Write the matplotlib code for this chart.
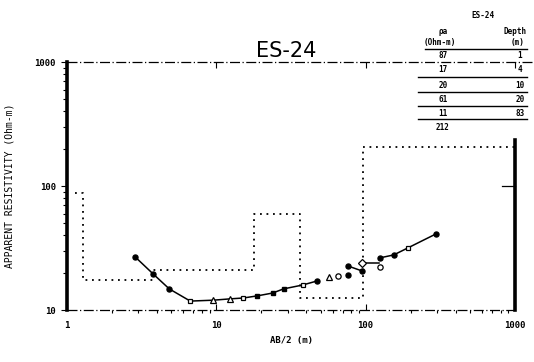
import matplotlib
matplotlib.use("Agg")
import matplotlib.pyplot as plt
import numpy as np

# ---------------- data ----------------
# observed apparent resistivity (AB/2 in m, rho_a in Ohm-m)
obs_ab2 = [2.86, 3.78, 4.84, 6.69, 9.55, 12.4, 15.2, 18.8, 23.8, 28.2, 37.8, 46.9,
           56.5, 64.9, 75.7, 75.7, 94.0, 94.0, 122.0, 124.0, 124.0, 154.0, 191.0, 245.0, 295.0]
obs_rho = [26.8, 19.5, 14.8, 11.8, 12.0, 12.3, 12.5, 13.0, 13.7, 14.8, 15.9, 17.1,
           18.5, 18.8, 19.1, 22.7, 20.7, 23.9, 23.9, 22.2, 26.3, 27.8, 31.6, 36.7, 41.0]
# symbol category per reading: f filled, s square, q filled square, t triangle, c circle, d diamond, n none
obs_sym = ['f', 'f', 'f', 's', 't', 't', 's', 'q', 'q', 'q', 's', 'f',
           't', 'c', 'f', 'f', 'f', 'd', 'n', 'c', 'f', 'f', 's', 'n', 'f']
# curve segment each reading belongs to (0 = not connected)
obs_seg = [1, 1, 1, 1, 1, 1, 1, 1, 1, 1, 1, 1,
           0, 0, 0, 2, 2, 3, 3, 0, 4, 4, 4, 4, 4]

# layered model (as drawn)
layer_top = [1.13, 1.28, 3.78, 18.0, 36.1, 95.5]
layer_rho = [88, 17.5, 21, 60, 12.5, 205]
model_end = 1000

# table text
table_title = "ES-24"
table_rho = ["87", "17", "20", "61", "11", "212"]
table_depth = ["1", "4", "10", "20", "83", ""]

x_ticks = [1, 10, 100, 1000]
x_ticklabels = ["1", "10", "100", "1000"]
y_ticks = [10, 100, 1000]
y_ticklabels = ["10", "100", "1000"]

# ---------------- figure ----------------
W, H = 534, 362
fig = plt.figure(figsize=(W / 100, H / 100), dpi=100)
ax = fig.add_axes([67 / W, 1 - 310 / H, (515 - 67) / W, (310 - 62) / H])
ax.set_xscale('log')
ax.set_yscale('log')
ax.set_xlim(1, 1000)
ax.set_ylim(10, 1000)

mono = 'DejaVu Sans Mono'

# model step line
mx = list(layer_top) + [model_end]
my = list(layer_rho) + [layer_rho[-1]]
ax.step(mx, my, where='post', color='black', lw=1.3, linestyle=(0, (1, 2.6)), zorder=2)

# curve segments
ab = np.array(obs_ab2)
rh = np.array(obs_rho)
sg = np.array(obs_seg)
for s in sorted(set(obs_seg)):
    if s == 0:
        continue
    m = sg == s
    ax.plot(ab[m], rh[m], color='black', lw=1.1, zorder=3)

sym_style = {
    'f': dict(marker='o', ms=3.6, mfc='black', mec='black'),
    'q': dict(marker='s', ms=3.4, mfc='black', mec='black'),
    's': dict(marker='s', ms=3.4, mfc='white', mec='black', mew=0.9),
    't': dict(marker='^', ms=3.8, mfc='white', mec='black', mew=0.9),
    'c': dict(marker='o', ms=3.8, mfc='white', mec='black', mew=0.9),
    'd': dict(marker='D', ms=3.6, mfc='white', mec='black', mew=0.9),
}
for code, st in sym_style.items():
    idx = [i for i, c in enumerate(obs_sym) if c == code]
    if idx:
        ax.plot(ab[idx], rh[idx], linestyle='none', zorder=4, **st)

# frame
for side in ['right', 'top', 'bottom']:
    ax.spines[side].set_visible(False)
ax.spines['left'].set_linewidth(2.6)
ax.plot([1, 1330], [1000, 1000], color='black', lw=0.9, linestyle=(0, (8, 2, 1, 2)),
        clip_on=False, zorder=5)
ax.plot([1, 1000], [10, 10], color='black', lw=0.9, linestyle=(0, (8, 2, 1, 2)),
        clip_on=False, zorder=5)
ax.plot([1000, 1000], [10, 235], color='black', lw=2.6, clip_on=False, zorder=5)
ax.plot([820, 1000], [100, 100], color='black', lw=0.9, clip_on=False, zorder=5)

ax.set_xticks(x_ticks)
ax.set_xticklabels(x_ticklabels, fontfamily=mono, fontweight='bold', fontsize=6.5)
ax.set_yticks(y_ticks)
ax.set_yticklabels(y_ticklabels, fontfamily=mono, fontweight='bold', fontsize=6.5)
ax.tick_params(axis='x', which='major', direction='out', length=4, width=0.8, pad=8)
ax.tick_params(axis='x', which='minor', direction='out', length=2, width=0.8)
ax.tick_params(axis='y', which='major', direction='out', length=4, width=0.8, pad=4)
ax.tick_params(axis='y', which='minor', direction='out', length=3, width=0.8)
ax.tick_params(top=True, which='major', axis='x', direction='in')
ax.set_xlabel("AB/2 (m)", fontfamily=mono, fontweight='bold', fontsize=6.5, labelpad=4)
ax.set_ylabel("APPARENT RESISTIVITY (Ohm-m)", fontfamily=mono, fontsize=7, labelpad=14)

# title
fig.text(286 / W, 1 - 51 / H, "ES-24", ha='center', va='center', fontsize=15,
         fontfamily='DejaVu Sans')

# table
def ft(x, y, s, **kw):
    fig.text(x / W, 1 - y / H, s, ha='center', va='center', fontfamily=mono,
             fontweight='bold', fontsize=5.5, **kw)

def hl(x0, x1, y, lw=1.0):
    fig.add_artist(plt.Line2D([x0 / W, x1 / W], [1 - y / H, 1 - y / H],
                              color='black', lw=lw))

ft(483, 15, table_title)
ft(443, 32, "\u03c1a")
ft(515, 32, "Depth")
ft(440, 42, "(Ohm-m)")
ft(518, 42, "(m)")
hl(425, 527, 49)
row_y = [55, 70, 85, 99, 113, 128]
line_y = [None, 77, 92, 106, 119, None]
for r, d, yy, ly in zip(table_rho, table_depth, row_y, line_y):
    ft(443, yy, r)
    if d:
        ft(520, yy, d)
    if ly is not None:
        hl(418, 527, ly)

fig.savefig("out.png", dpi=100, facecolor='white')
